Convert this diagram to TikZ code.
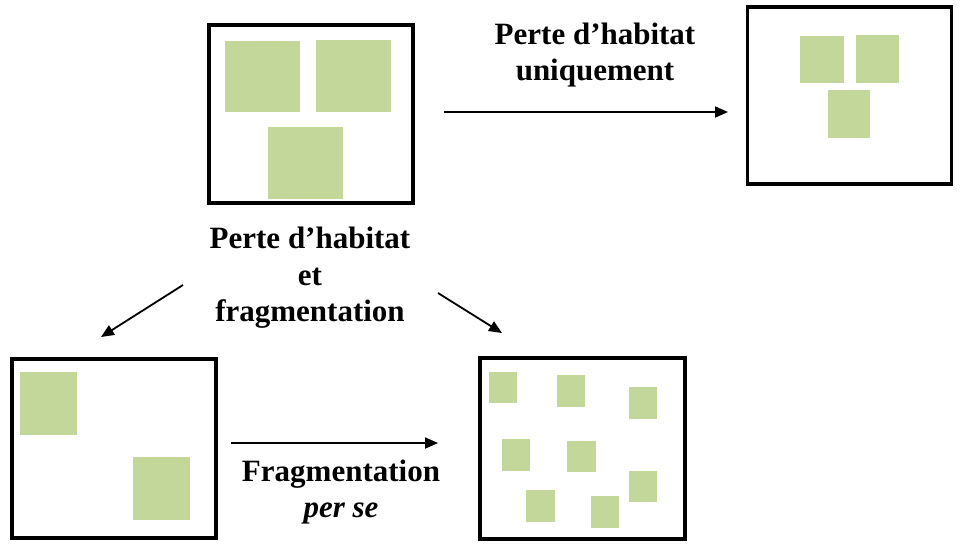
\documentclass[tikz,border=0pt]{standalone}
\usepackage{fontspec}
\setmainfont{Liberation Serif}
\usetikzlibrary{arrows.meta}
\definecolor{patch}{RGB}{196,215,155}
\tikzset{
  frame/.style={draw=black, line width=4pt, fill=white},
  thinframe/.style={draw=black, line width=3.3pt, fill=white},
  patchfill/.style={fill=patch, draw=none},
  conn/.style={draw=black, line width=1.8pt, -{Triangle[length=13pt,width=11pt]}},
  lbl/.style={font=\fontsize{31}{36.5}\selectfont\bfseries, align=center, inner sep=0pt}
}
\begin{document}
\begin{tikzpicture}[x=1pt,y=-1pt]
\useasboundingbox (0,0) rectangle (960,547);
% top-left frame
\draw[frame] (209,25) rectangle (413,203);
\fill[patchfill] (225,41) rectangle (300,112);
\fill[patchfill] (316,40) rectangle (391,112);
\fill[patchfill] (268,127) rectangle (343,199);
% top-right frame
\draw[thinframe] (747.5,7) rectangle (951.5,184);
\fill[patchfill] (800,36) rectangle (844,83);
\fill[patchfill] (856,35) rectangle (899,83);
\fill[patchfill] (828,90) rectangle (870,138);
% bottom-left frame
\draw[frame] (12,359) rectangle (216,538);
\fill[patchfill] (20,372) rectangle (77,435);
\fill[patchfill] (133,457) rectangle (190,520);
% bottom-right frame
\draw[frame] (480,358) rectangle (684.5,539);
\fill[patchfill] (489,372) rectangle (517,403);
\fill[patchfill] (557,375) rectangle (585,407);
\fill[patchfill] (629,387) rectangle (657,419);
\fill[patchfill] (502,439) rectangle (530,471);
\fill[patchfill] (567,441) rectangle (596,472);
\fill[patchfill] (629,471) rectangle (657,502);
\fill[patchfill] (526,490) rectangle (555,522);
\fill[patchfill] (591,496) rectangle (619,528);
% labels
\node[lbl] (lost) at (595,55) {Perte d’habitat\\uniquement};
\node[lbl] (both) at (310,278) {Perte d’habitat\\et\\fragmentation};
\node[lbl] (frag) at (341,492) {Fragmentation\\\textit{per se}};
% arrow anchor points
\coordinate (a1s) at (444,112);
\coordinate (a1e) at (728,112);
\coordinate (a2s) at (183,285);
\coordinate (a2e) at (101,337);
\coordinate (a3s) at (438,293);
\coordinate (a3e) at (502,333);
\coordinate (a4s) at (231,443);
\coordinate (a4e) at (438,443);
\draw[conn] (a1s) -- (a1e);
\draw[conn] (a2s) -- (a2e);
\draw[conn] (a3s) -- (a3e);
\draw[conn] (a4s) -- (a4e);
\end{tikzpicture}
\end{document}
